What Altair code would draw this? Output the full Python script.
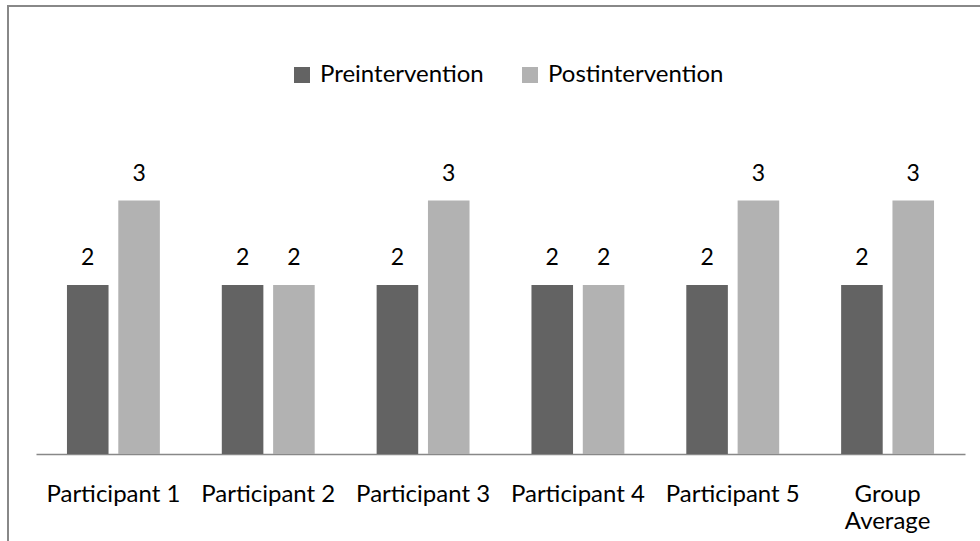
import altair as alt
import pandas as pd

categories = ["Participant 1", "Participant 2", "Participant 3",
              "Participant 4", "Participant 5", "Group Average"]
pre_values = [2, 2, 2, 2, 2, 2]
post_values = [3, 2, 3, 2, 3, 3]
series_names = ["Preintervention", "Postintervention"]
series_colors = ["#636363", "#b2b2b2"]

rows = []
for cat, pre, post in zip(categories, pre_values, post_values):
    rows.append({"category": cat, "series": series_names[0], "value": pre})
    rows.append({"category": cat, "series": series_names[1], "value": post})
df = pd.DataFrame(rows)

FONT = "Lato"
TEXT_SIZE = 24

x_enc = alt.X(
    "category:N",
    sort=categories,
    scale=alt.Scale(paddingInner=0.4, paddingOuter=0.2),
    axis=alt.Axis(
        title=None,
        labelAngle=0,
        ticks=False,
        labelPadding=28,
        labelFontSize=TEXT_SIZE,
        labelFont=FONT,
        labelColor="#000000",
        labelLineHeight=27,
        labelLimit=300,
        labelExpr="datum.label == 'Group Average' ? ['Group', 'Average'] : datum.label",
        domainColor="#888888",
        domainWidth=1.3,
        grid=False,
    ),
)
xoff_enc = alt.XOffset(
    "series:N",
    sort=series_names,
    scale=alt.Scale(paddingInner=0.19, paddingOuter=0),
)
y_enc = alt.Y("value:Q", scale=alt.Scale(domain=[0, 4]), axis=None)

base = alt.Chart(df)

bars = base.mark_bar().encode(
    x=x_enc,
    xOffset=xoff_enc,
    y=y_enc,
    color=alt.Color(
        "series:N",
        sort=series_names,
        scale=alt.Scale(domain=series_names, range=series_colors),
        legend=alt.Legend(
            title=None,
            orient="none",
            direction="horizontal",
            legendX=254,
            legendY=-53,
            symbolType="square",
            symbolSize=256,
            symbolStrokeWidth=0,
            labelFontSize=TEXT_SIZE,
            labelFont=FONT,
            labelColor="#000000",
            labelLimit=400,
            labelOffset=6,
            columnPadding=34,
        ),
    ),
)

labels = base.mark_text(
    dy=-20, baseline="alphabetic", fontSize=23, font=FONT, color="#000000"
).encode(
    x=alt.X("category:N", sort=categories),
    xOffset=alt.XOffset("series:N", sort=series_names),
    y=alt.Y("value:Q"),
    text=alt.Text("value:Q"),
)

# outer frame of the chart area
frame = alt.Chart(pd.DataFrame({"k": [0]})).mark_rect(
    fill=None, stroke="#888888", strokeWidth=2
).encode(
    x=alt.value(-28),
    x2=alt.value(1000),
    y=alt.value(-110),
    y2=alt.value(600),
)

chart = (
    alt.layer(frame, bars, labels)
    .properties(
        width=929,
        height=338,
        padding={"left": 36, "top": 116, "right": 15, "bottom": 87},
        autosize=alt.AutoSizeParams(type="none"),
        background="#ffffff",
    )
    .configure_view(stroke=None)
)

chart.save("out.html", embed_options={"renderer": "svg", "actions": False})
